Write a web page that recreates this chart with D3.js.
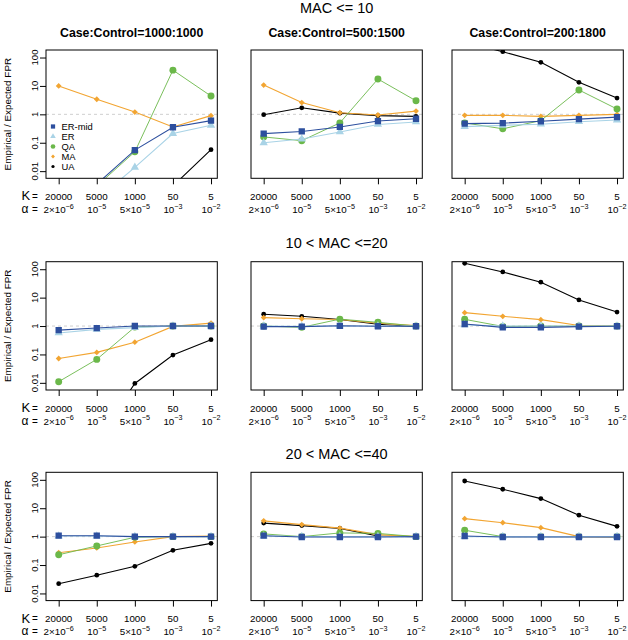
<!DOCTYPE html>
<html><head><meta charset="utf-8">
<script src="https://cdn.jsdelivr.net/npm/d3@7"></script>
<style>
body{margin:0;background:#fff;}
svg{display:block;font-family:"Liberation Sans",Arial,Helvetica,sans-serif;}
</style></head>
<body>
<svg id="chart" width="628" height="640"></svg>
<script>
// ---------- data ----------
const methods = ["ER-mid", "ER", "QA", "MA", "UA"];
const kLabels = ["20000", "5000", "1000", "50", "5"];
const alphaMant = ["2\u00d710", "10", "5\u00d710", "10", "10"];
const alphaExp = ["\u22126", "\u22125", "\u22125", "\u22123", "\u22122"];
const rowTitles = ["MAC <= 10", "10 < MAC <=20", "20 < MAC <=40"];
const colTitles = ["Case:Control=1000:1000", "Case:Control=500:1500", "Case:Control=200:1800"];
const yTicks = [0.01, 0.1, 1, 10, 100];
const yTickLabels = ["0.01", "0.1", "1", "10", "100"];

// each panel: rows in method order ER-mid, ER, QA, MA, UA ; columns K = 20000,5000,1000,50,5
const mac10_cc1000 = [
  [0.001, 0.0035, 0.055, 0.35, 0.6],
  [0.0004, 0.001, 0.0136, 0.21, 0.41],
  [0.001, 0.003, 0.048, 36, 4.4],
  [10, 3.4, 1.2, 0.36, 0.9],
  [0.0001, 0.0002, 0.0005, 0.003, 0.057]
];
const mac10_cc500 = [
  [0.21, 0.25, 0.36, 0.58, 0.7],
  [0.1, 0.135, 0.24, 0.44, 0.54],
  [0.16, 0.118, 0.5, 17.5, 3.0],
  [10.7, 2.6, 1.14, 0.95, 1.3],
  [0.97, 1.7, 1.1, 0.9, 0.85]
];
const mac10_cc200 = [
  [0.47, 0.49, 0.57, 0.68, 0.8],
  [0.37, 0.41, 0.45, 0.55, 0.63],
  [0.5, 0.31, 0.6, 7.2, 1.54],
  [0.92, 0.92, 0.85, 0.92, 1.0],
  [350, 160, 68, 13.4, 3.75]
];
const mac20_cc1000 = [
  [0.72, 0.85, 1.0, 1.0, 1.0],
  [0.57, 0.76, 0.88, 1.0, 1.0],
  [0.011, 0.067, 0.92, 1.0, 1.0],
  [0.072, 0.118, 0.27, 0.97, 1.27],
  [0.00001, 0.0001, 0.0095, 0.095, 0.33]
];
const mac20_cc500 = [
  [0.95, 0.95, 1.02, 0.98, 0.98],
  [1.0, 0.98, 1.0, 1.0, 1.0],
  [1.0, 0.9, 1.75, 1.35, 1.0],
  [1.98, 1.8, 1.7, 1.25, 1.05],
  [2.6, 2.2, 1.7, 1.15, 0.95]
];
const mac20_cc200 = [
  [1.18, 0.9, 0.9, 0.95, 0.98],
  [1.1, 1.0, 1.0, 1.0, 1.0],
  [1.72, 0.97, 1.0, 1.0, 1.0],
  [2.96, 2.2, 1.68, 1.05, 1.0],
  [162, 80, 35, 8.3, 3.1]
];
const mac40_cc1000 = [
  [1.08, 1.08, 1.0, 1.0, 1.0],
  [1.05, 1.05, 1.0, 1.0, 1.0],
  [0.23, 0.47, 0.95, 1.0, 1.0],
  [0.27, 0.4, 0.65, 1.0, 1.05],
  [0.022, 0.044, 0.09, 0.33, 0.58]
];
const mac40_cc500 = [
  [1.08, 0.97, 0.97, 0.97, 1.0],
  [1.05, 1.0, 1.0, 1.0, 1.0],
  [1.25, 1.0, 1.35, 1.3, 1.0],
  [3.6, 2.65, 2.0, 1.18, 1.0],
  [3.0, 2.45, 1.95, 1.05, 1.0]
];
const mac40_cc200 = [
  [1.05, 0.97, 0.97, 0.97, 0.97],
  [1.0, 1.0, 1.0, 1.0, 1.0],
  [1.68, 1.0, 1.0, 1.0, 1.0],
  [4.3, 3.1, 2.07, 1.0, 0.95],
  [91, 46.6, 21.8, 5.7, 2.3]
];
const panels = [
  [mac10_cc1000, mac10_cc500, mac10_cc200],
  [mac20_cc1000, mac20_cc500, mac20_cc200],
  [mac40_cc1000, mac40_cc500, mac40_cc200]
];

// ---------- styles ----------
const colors = {"ER-mid": "#2d4f9e", "ER": "#a9d3e6", "QA": "#6bb84a", "MA": "#f2a532", "UA": "#000000"};
const shapes = {"ER-mid": d3.symbolSquare, "ER": d3.symbolTriangle, "QA": d3.symbolCircle, "MA": d3.symbolSquare, "UA": d3.symbolCircle};
const sizes = {"ER-mid": 40, "ER": 30, "QA": 38, "MA": 17, "UA": 18};
const rotate = {"ER-mid": 0, "ER": 0, "QA": 0, "MA": 45, "UA": 0};
const drawOrder = ["UA", "MA", "QA", "ER", "ER-mid"];

const colLeft = [46, 251, 452];
const panelW = 171.3;
const rowTop = [50, 261.7, 472.3];
const panelH = 128.3;

const svg = d3.select("#chart");
const xIdx = [1, 2, 3, 4, 5];

rowTitles.forEach((t, r) => {
  svg.append("text").attr("x", 336.6).attr("y", rowTop[r] + (r === 0 ? -37.3 : -13.6))
    .attr("text-anchor", "middle").attr("font-size", 14.5).text(t);
});

panels.forEach((row, r) => {
  row.forEach((pdata, c) => {
    const L = colLeft[c], T = rowTop[r], B = T + panelH, R = L + panelW;
    const x = d3.scaleLinear().domain([0.667, 5.165]).range([L, R]);
    const y = d3.scaleLog().domain([Math.pow(10, -2.252), Math.pow(10, 2.265)]).range([B, T]);
    const g = svg.append("g");
    const clipId = `clip-${r}-${c}`;
    svg.append("clipPath").attr("id", clipId).append("rect")
      .attr("x", L).attr("y", T).attr("width", panelW).attr("height", panelH);

    if (r === 0) {
      g.append("text").attr("x", (L + R) / 2).attr("y", 36.7).attr("text-anchor", "middle")
        .attr("font-size", 12.3).attr("font-weight", "bold").text(colTitles[c]);
    }

    const plot = g.append("g").attr("clip-path", `url(#${clipId})`);
    // reference line at 1
    plot.append("line").attr("x1", L).attr("x2", R).attr("y1", y(1)).attr("y2", y(1))
      .attr("stroke", "#cfcfcf").attr("stroke-width", 1).attr("stroke-dasharray", "3,3");

    drawOrder.forEach(m => {
      const vals = pdata[methods.indexOf(m)];
      const pts = vals.map((v, i) => [x(xIdx[i]), y(v)]);
      plot.append("path").attr("d", d3.line()(pts)).attr("fill", "none")
        .attr("stroke", colors[m]).attr("stroke-width", m === "QA" ? 0.9 : 1.1);
      const sym = d3.symbol().type(shapes[m]).size(sizes[m]);
      plot.selectAll(null).data(pts).enter().append("path")
        .attr("d", sym)
        .attr("transform", p => `translate(${p[0]},${p[1]}) rotate(${rotate[m]})`)
        .attr("fill", colors[m]);
    });

    // box
    g.append("rect").attr("x", L).attr("y", T).attr("width", panelW).attr("height", panelH)
      .attr("fill", "none").attr("stroke", "#000").attr("stroke-width", 1);

    // y axis (first column only)
    if (c === 0) {
      const ya = g.append("g").attr("transform", `translate(${L},0)`)
        .call(d3.axisLeft(y).tickValues(yTicks).tickSize(6).tickFormat(""));
      ya.select(".domain").remove();
      ya.selectAll("line").attr("stroke", "#000");
      yTicks.forEach((v, i) => {
        g.append("text").attr("transform", `translate(${L - 8.5},${y(v)}) rotate(-90)`)
          .attr("text-anchor", "middle").attr("font-size", 9.6).text(yTickLabels[i]);
      });
    }

    // x axis
    const xa = g.append("g").attr("transform", `translate(0,${B})`)
      .call(d3.axisBottom(x).tickValues(xIdx).tickSize(6).tickFormat(""));
    xa.select(".domain").remove();
    xa.selectAll("line").attr("stroke", "#000");
    xIdx.forEach((v, i) => {
      g.append("text").attr("x", x(v)).attr("y", B + 21.6).attr("text-anchor", "middle")
        .attr("font-size", 9.8).text(kLabels[i]);
      const t = g.append("text").attr("x", x(v)).attr("y", B + 34.8).attr("text-anchor", "middle")
        .attr("font-size", 9.8);
      t.append("tspan").text(alphaMant[i]);
      t.append("tspan").attr("dy", -4.5).attr("font-size", 7.2).text(alphaExp[i]);
    });

    if (c === 0) {
      g.append("text").attr("x", 21.5).attr("y", B + 22).attr("font-size", 13).text("K");
      g.append("text").attr("x", 32).attr("y", B + 21.6).attr("font-size", 10).text("=");
      g.append("text").attr("x", 21.5).attr("y", B + 34.8).attr("font-size", 12).text("\u03b1");
      g.append("text").attr("x", 32).attr("y", B + 34.8).attr("font-size", 10).text("=");
      g.append("text").attr("transform", `translate(10.5,${(T + B) / 2}) rotate(-90)`)
        .attr("text-anchor", "middle").attr("font-size", 9.9).text("Empirical / Expected FPR");
    }

    if (r === 0 && c === 0) {
      const lg = g.append("g");
      methods.forEach((m, i) => {
        const ly = 126.5 + i * 10;
        const sym = d3.symbol().type(shapes[m]).size(sizes[m] * 0.45);
        lg.append("path").attr("d", sym)
          .attr("transform", `translate(53,${ly}) rotate(${rotate[m]})`).attr("fill", colors[m]);
        lg.append("text").attr("x", 61.5).attr("y", ly + 3.3).attr("font-size", 9.4).text(m);
      });
    }
  });
});
</script>
</body></html>
